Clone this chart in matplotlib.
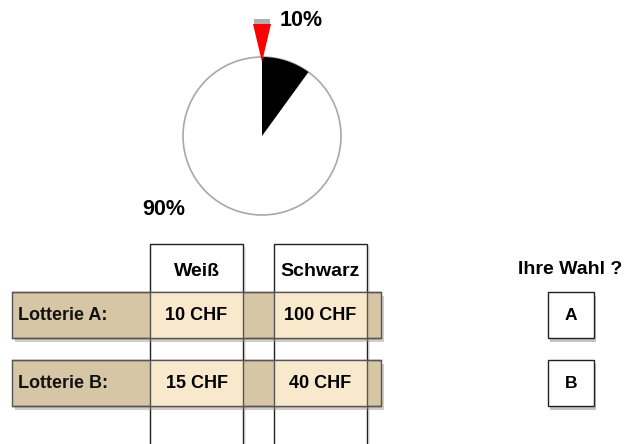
import matplotlib.pyplot as plt
from matplotlib.patches import Wedge, Circle, Rectangle, Polygon

plt.rcParams['font.family'] = ['Liberation Sans', 'DejaVu Sans']

# data
pie_shares = [10, 90]          # black, white
pie_labels = ['10%', '90%']
col_names = ['Weiß', 'Schwarz']
row_names = ['Lotterie A:', 'Lotterie B:']
payoffs = [['10 CHF', '100 CHF'],
           ['15 CHF', '40 CHF']]
choices = ['A', 'B']

fig = plt.figure(figsize=(6.26, 4.44), dpi=100)
ax = fig.add_axes([0, 0, 1, 1])
ax.set_xlim(0, 626)
ax.set_ylim(444, 0)
ax.set_aspect('equal')
ax.axis('off')

# pie (drawn clockwise from top)
cx, cy, r = 262, 136, 79
start = 90
black_deg = 360 * pie_shares[0] / sum(pie_shares)
ax.add_patch(Circle((cx, cy), r, facecolor='white', edgecolor='#a8a8a8', lw=1.2))
# y axis is inverted, so angles go the other way
ax.add_patch(Wedge((cx, cy), r, -start, -start + black_deg, facecolor='black', edgecolor='none'))
ax.add_patch(Polygon([[253, 24], [271, 24], [262, 62]], closed=True, facecolor='#ff0000', edgecolor='none'))
ax.add_patch(Rectangle((254, 19), 16, 5, facecolor='#b0b0b0', edgecolor='none'))
ax.text(280, 21, pie_labels[0], fontsize=15.5, fontweight='bold', ha='left', va='center')
ax.text(142, 209, pie_labels[1], fontsize=15.5, fontweight='bold', ha='left', va='center')

# table
col_x = [150, 274]
col_w = 93
row_y = [292, 360]
row_h = 46
band_x0, band_x1 = 12, 381

for x in col_x:
    ax.add_patch(Rectangle((x + 3, 247), col_w, 200, facecolor='#dddddd', edgecolor='none', alpha=0.6))
    ax.add_patch(Rectangle((x, 244), col_w, 210, facecolor='white', edgecolor='#222222', lw=1.0))
for y in row_y:
    ax.add_patch(Rectangle((band_x0 + 3, y + 4), band_x1 - band_x0, row_h, facecolor='#9a8f80', edgecolor='none', alpha=0.45))
    ax.add_patch(Rectangle((band_x0, y), band_x1 - band_x0, row_h, facecolor='#d7c6a5', edgecolor='#555555', lw=1.0))
    for x in col_x:
        ax.add_patch(Rectangle((x, y), col_w, row_h, facecolor='#f8e9cd', edgecolor='none'))
    ax.plot([band_x0, band_x1], [y, y], color='#555555', lw=1.0)
    ax.plot([band_x0, band_x1], [y + row_h, y + row_h], color='#555555', lw=1.0)
    for x in col_x:
        ax.plot([x, x], [y, y + row_h], color='#555555', lw=1.0)
        ax.plot([x + col_w, x + col_w], [y, y + row_h], color='#555555', lw=1.0)

for x, name in zip(col_x, col_names):
    ax.text(x + col_w / 2, 271, name, fontsize=14, fontweight='bold', ha='center', va='center')
for y, name, vals in zip(row_y, row_names, payoffs):
    ax.text(18, y + row_h / 2, name, fontsize=13, fontweight='bold', ha='left', va='center', color='#111111')
    for x, v in zip(col_x, vals):
        ax.text(x + col_w / 2, y + row_h / 2, v, fontsize=13, fontweight='bold', ha='center', va='center')

# choice boxes
ax.text(570, 269, 'Ihre Wahl ?', fontsize=14, fontweight='bold', ha='center', va='center')
for y, c in zip(row_y, choices):
    ax.add_patch(Rectangle((550, y + 4), 46, 46, facecolor='#888888', edgecolor='none', alpha=0.5))
    ax.add_patch(Rectangle((548, y), 46, 46, facecolor='white', edgecolor='#222222', lw=1.0))
    ax.text(571, y + 23, c, fontsize=12.5, fontweight='bold', ha='center', va='center')

fig.savefig('out.png', dpi=100)
